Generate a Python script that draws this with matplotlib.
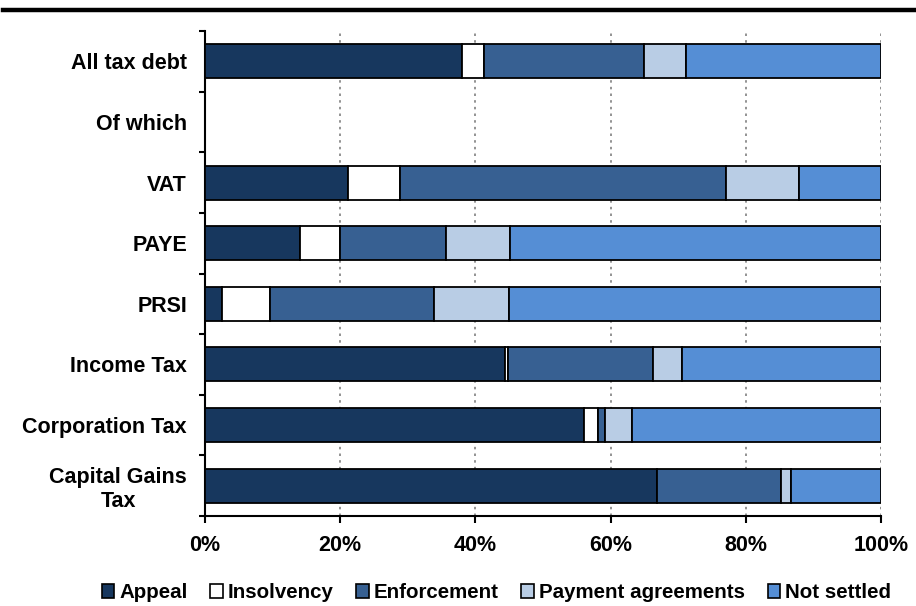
import numpy as np
import matplotlib.pyplot as plt
from matplotlib.lines import Line2D
from matplotlib.ticker import FixedLocator, PercentFormatter

plt.rcParams['font.family'] = ['Liberation Sans', 'DejaVu Sans']
plt.rcParams['font.weight'] = 'bold'

categories = ['All tax debt', 'Of which', 'VAT', 'PAYE', 'PRSI', 'Income Tax',
              'Corporation Tax', 'Capital Gains\nTax']
series = ['Appeal', 'Insolvency', 'Enforcement', 'Payment agreements', 'Not settled']

# shares in %, NaN for the empty "Of which" row
appeal = [38.0, np.nan, 21.1, 14.1, 2.5, 44.4, 56.0, 66.9]
insolvency = [3.2, np.nan, 7.7, 5.8, 7.1, 0.4, 2.1, 0.0]
enforcement = [23.7, np.nan, 48.2, 15.8, 24.3, 21.5, 1.1, 18.3]
payment = [6.2, np.nan, 10.9, 9.4, 11.0, 4.2, 3.9, 1.5]
not_settled = [28.9, np.nan, 12.1, 54.9, 55.1, 29.5, 36.9, 13.3]

colors = ['#17375E', '#FFFFFF', '#376092', '#B9CDE5', '#558ED5']

fig = plt.figure(figsize=(9.16, 6.06), dpi=100)
ax = fig.add_axes([0.2238, 0.1485, 0.7380, 0.8003])

y = np.arange(len(categories))
left = np.zeros(len(categories))
for name, vals, c in zip(series, [appeal, insolvency, enforcement, payment, not_settled], colors):
    v = np.nan_to_num(np.array(vals, dtype=float))
    ax.barh(y, v, left=left, height=0.56, color=c, edgecolor='black',
            linewidth=1.3, label=name, zorder=3)
    left += v

ax.set_xlim(0, 100)
ax.set_ylim(7.5, -0.5)
ax.set_xticks([0, 20, 40, 60, 80, 100])
ax.xaxis.set_major_formatter(PercentFormatter(decimals=0))
ax.set_yticks(y)
ax.set_yticklabels(categories, ha='right', multialignment='center')
ax.yaxis.set_minor_locator(FixedLocator(np.arange(-0.5, 8, 1)))
ax.tick_params(axis='y', which='major', length=0, pad=13, labelsize=15.5)
ax.tick_params(axis='y', which='minor', length=4, width=1.5, direction='out')
ax.tick_params(axis='x', length=5, width=1.5, direction='out', pad=9, labelsize=15.5)

for s in ['top', 'right']:
    ax.spines[s].set_visible(False)
for s in ['left', 'bottom']:
    ax.spines[s].set_linewidth(1.5)

ax.xaxis.grid(True, linestyle=(0, (1.5, 2.5)), color='#808080', linewidth=1.2, zorder=0)
ax.set_axisbelow(True)

# thick rule at top of figure
fig.add_artist(Line2D([0.003, 1.0], [0.984, 0.984], color='black', linewidth=3.2,
                      transform=fig.transFigure))

handles = [plt.Rectangle((0, 0), 1, 1, facecolor=c, edgecolor='black', linewidth=1.2)
           for c in colors]
fig.legend(handles, series, loc='center', bbox_to_anchor=(0.542, 0.022), ncol=5,
           frameon=False, fontsize=14.8, handlelength=0.6, handleheight=0.7,
           handletextpad=0.25, columnspacing=1.1)

fig.savefig('out.png', dpi=100)
